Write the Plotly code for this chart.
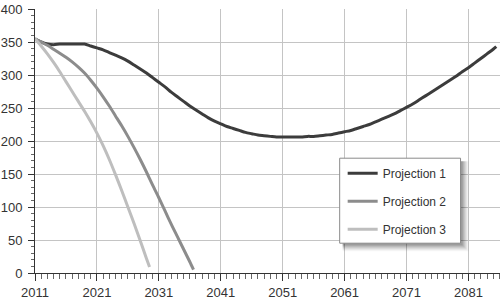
import plotly.graph_objects as go

years1 = list(range(2011, 2086)) + [2085.5]
proj1 = [355, 350, 347, 346, 347, 347, 347, 347, 347, 344,
         341, 338, 334, 330, 326, 321, 315, 309, 303, 296,
         289, 282, 274, 267, 260, 253, 247, 241, 235, 230,
         226, 222, 219, 216, 213, 211, 209, 208, 207, 206,
         206, 206, 206, 206, 207, 207, 208, 209, 210, 212,
         214, 216, 219, 222, 225, 229, 233, 237, 241, 246,
         251, 256, 262, 268, 274, 280, 286, 292, 298, 305,
         311, 318, 325, 332, 339, 343]

years2 = list(range(2011, 2037)) + [2036.6]
proj2 = [355, 350, 345, 339, 333, 327, 320, 312, 303, 292,
         280, 267, 253, 238, 223, 207, 190, 172, 153, 133,
         114, 94, 74, 55, 36, 17, 5]

years3 = list(range(2011, 2030)) + [2029.5]
proj3 = [355, 344, 332, 319, 305, 290, 275, 260, 245, 229,
         212, 193, 172, 149, 125, 100, 75, 49, 22, 9]

names = ["Projection 1", "Projection 2", "Projection 3"]
colors = ["#3c3c3c", "#8c8c8c", "#bebebe"]
x_ticks = [2011, 2021, 2031, 2041, 2051, 2061, 2071, 2081]
y_ticks = [0, 50, 100, 150, 200, 250, 300, 350, 400]

fig = go.Figure()
for i, (xs, ys) in enumerate([(years1, proj1), (years2, proj2), (years3, proj3)]):
    fig.add_trace(go.Scatter(x=xs, y=ys, mode="lines", name=names[i],
                             legendgroup=names[i],
                             line=dict(color=colors[i], width=3, shape="spline", smoothing=0.8)))

FONT = "Liberation Sans, Arial, sans-serif"

W, H = 500, 299
ml, mr, mt, mb = 34.5, 0, 9.3, 25.7
pw, ph = W - ml - mr, H - mt - mb
def px(x):
    return (x - ml) / pw
def py(y):
    return (H - mb - y) / ph

bx0, bx1, by0, by1 = 339.5, 460.5, 158.5, 243.5
shapes = []
for k, op in [(8, 0.035), (7, 0.045), (6, 0.055), (5, 0.065), (4, 0.075), (3, 0.085), (2, 0.1)]:
    shapes.append(dict(type="rect", xref="paper", yref="paper",
                       x0=px(bx0 + 3), x1=px(bx1 + k), y0=py(by1 + k), y1=py(by0 + 3),
                       fillcolor="rgba(0,0,0,%g)" % op, line=dict(width=0), layer="above"))
shapes.append(dict(type="rect", xref="paper", yref="paper",
                   x0=px(bx0), x1=px(bx1), y0=py(by1), y1=py(by0),
                   fillcolor="white", line=dict(color="#8a8a8a", width=1), layer="above"))

fig.update_layout(
    width=W, height=H,
    margin=dict(l=ml, r=mr, t=mt, b=mb, pad=0),
    paper_bgcolor="white", plot_bgcolor="white",
    font=dict(family=FONT, size=13, color="#333333"),
    shapes=shapes,
    showlegend=True,
    legend=dict(x=px(bx0 + 3), y=py(by0 + 0.5), xanchor="left", yanchor="top",
                bgcolor="rgba(0,0,0,0)", borderwidth=0,
                font=dict(family=FONT, size=12, color="#333333"),
                tracegroupgap=9, itemwidth=30),
    xaxis=dict(range=[2011, 2086.1], tickvals=x_ticks, ticktext=[str(v) for v in x_ticks],
               showgrid=True, gridcolor="#c4c4c4", gridwidth=1, zeroline=False,
               showline=True, linecolor="#333333", linewidth=1,
               ticks="outside", ticklen=7, tickcolor="#333333", tickwidth=1,
               minor=dict(dtick=1, tick0=2011, ticks="outside", ticklen=5, tickcolor="#666666",
                          showgrid=False),
               tickfont=dict(size=13)),
    yaxis=dict(range=[0, 400], tickvals=y_ticks,
               showgrid=True, gridcolor="#c4c4c4", gridwidth=1, zeroline=False,
               showline=True, linecolor="#333333", linewidth=1,
               ticks="outside", ticklen=6, tickcolor="#333333", tickwidth=1,
               minor=dict(dtick=10, tick0=0, ticks="outside", ticklen=3, tickcolor="#666666",
                          showgrid=False),
               tickfont=dict(size=13), ticklabelstandoff=3),
)

fig.write_html("out.html")
